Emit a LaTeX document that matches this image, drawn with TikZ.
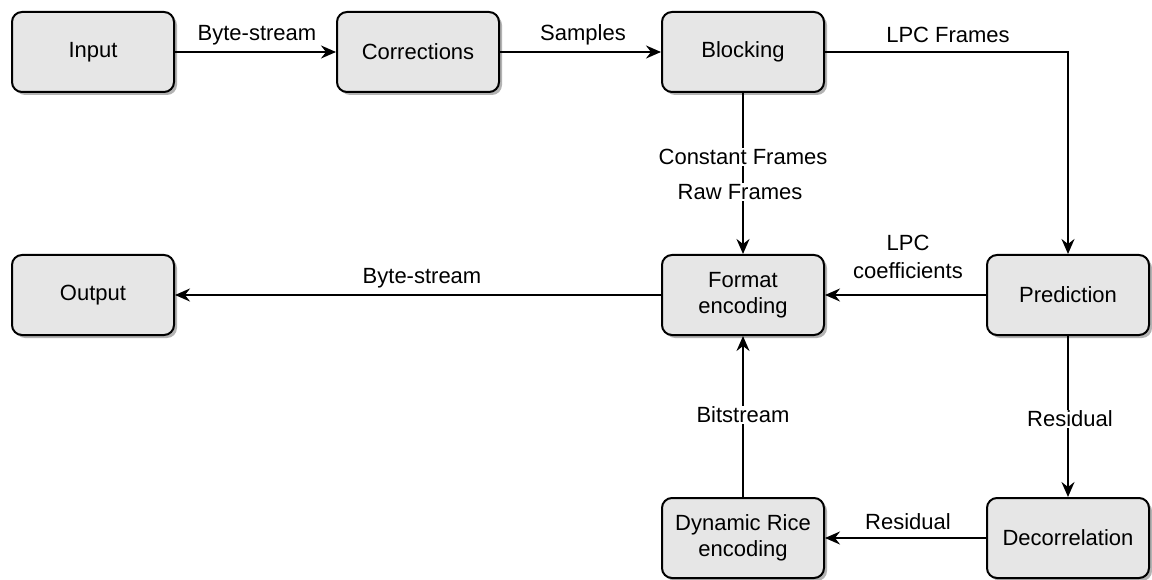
\documentclass[tikz,border=0pt]{standalone}
\usepackage{fontspec}
\setmainfont{Liberation Sans}
\usetikzlibrary{arrows.meta,shadows}
\definecolor{boxfill}{HTML}{E6E6E6}
\definecolor{shadowgray}{HTML}{B3B3B3}
\begin{document}
\begin{tikzpicture}[x=1pt,y=-1pt,
  blk/.style={draw=black, line width=2pt, fill=boxfill, rounded corners=10pt,
    minimum width=162pt, minimum height=80pt, align=center, font=\fontsize{22}{26}\selectfont,
    drop shadow={shadow xshift=3pt, shadow yshift=-3pt, fill=shadowgray, opacity=1}},
  conn/.style={draw=black, line width=2pt, -{Stealth[length=15pt,width=13pt,inset=5pt]}},
  lbl/.style={fill=white, inner sep=1pt, font=\fontsize{22}{28}\selectfont, align=center, text=black}
  ]
\useasboundingbox (0,0) rectangle (1152,580);
\node[blk] (input) at (93,52) {Input};
\node[blk] (corr) at (418,52) {Corrections};
\node[blk] (block) at (743,52) {Blocking};
\node[blk] (out) at (93,295) {Output};
\node[blk] (fmt) at (743,295) {Format\\encoding};
\node[blk] (pred) at (1068,295) {Prediction};
\node[blk] (rice) at (743,538) {Dynamic Rice\\encoding};
\node[blk] (dec) at (1068,538) {Decorrelation};

\coordinate (bend) at (1068,52);

\draw[conn] (input) -- (corr);
\node[lbl, fill=none] (l1) at (257,35) {Byte-stream};
\draw[conn] (corr) -- (block);
\node[lbl, fill=none] (l2) at (583,35) {Samples};
\draw[conn] (block.east) -- (bend) -- (pred.north);
\node[lbl, fill=none] (l3) at (948,35) {LPC Frames};
\draw[conn] (block) -- (fmt);
\node[lbl] (l4) at (743,157) {Constant Frames};
\node[lbl] (l5) at (740,192) {Raw Frames};
\draw[conn] (fmt) -- (out);
\node[lbl, fill=none] (l6) at (422,278) {Byte-stream};
\draw[conn] (pred) -- (fmt);
\node[lbl, fill=none] (l7) at (908,257) {LPC\\coefficients};
\draw[conn] (pred) -- (dec);
\node[lbl] (l8) at (1070,419) {Residual};
\draw[conn] (dec) -- (rice);
\node[lbl, fill=none] (l9) at (908,522) {Residual};
\draw[conn] (rice) -- (fmt);
\node[lbl] (l10) at (743,415) {Bitstream};
\end{tikzpicture}
\end{document}
